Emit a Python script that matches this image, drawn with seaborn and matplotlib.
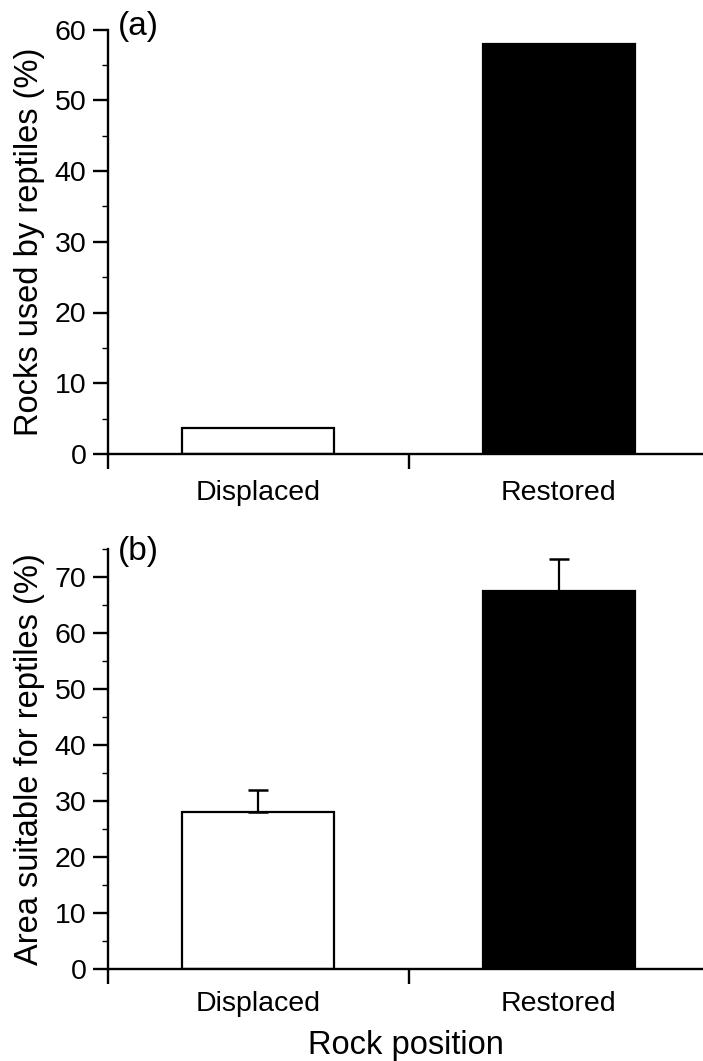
import matplotlib
matplotlib.use("Agg")
import matplotlib.pyplot as plt
import seaborn as sns
from matplotlib.ticker import MultipleLocator, FixedLocator

sns.set_theme(style="ticks")
plt.rcParams['font.family'] = ['Liberation Sans', 'DejaVu Sans']
plt.rcParams.update({"text.color": "black", "axes.labelcolor": "black",
                     "xtick.color": "black", "ytick.color": "black"})

categories = ["Displaced", "Restored"]
rocks_used = [3.7, 58.0]
area_suitable = [28.0, 67.5]
area_se = [3.9, 5.8]
bar_colors = ["white", "black"]

fig = plt.figure(figsize=(7.03, 10.61), dpi=100)
W, H = 703, 1061
ax_a = fig.add_axes([108 / W, 1 - 454 / H, (703 - 108) / W, (454 - 29.5) / H])
ax_b = fig.add_axes([108 / W, 1 - 969 / H, (703 - 108) / W, (969 - 549) / H])


def style_axis(ax, ylim, xpad):
    ax.set_xlim(-0.5, 1.48)
    ax.set_ylim(*ylim)
    for s in ("top", "right"):
        ax.spines[s].set_visible(False)
    for s in ("left", "bottom"):
        ax.spines[s].set_linewidth(1.7)
        ax.spines[s].set_color("black")
    ax.yaxis.set_major_locator(MultipleLocator(10))
    ax.yaxis.set_minor_locator(MultipleLocator(5))
    ax.xaxis.set_major_locator(FixedLocator([0, 1]))
    ax.xaxis.set_minor_locator(FixedLocator([-0.5, 0.5]))
    ax.set_xticklabels(categories)
    ax.tick_params(axis="y", which="major", length=11, width=1.7, labelsize=20.5,
                   pad=4.5, direction="out")
    ax.tick_params(axis="y", which="minor", length=4.5, width=1.0,
                   direction="out")
    ax.tick_params(axis="x", which="major", length=0, labelsize=20.5, pad=xpad)
    ax.tick_params(axis="x", which="minor", length=11, width=1.7,
                   direction="out")
    ax.set_facecolor("white")


# (a) share of rocks used by reptiles
sns.barplot(x=categories, y=rocks_used, hue=categories, palette=bar_colors,
            width=0.505, edgecolor="black", linewidth=1.6, legend=False,
            ax=ax_a, saturation=1)
style_axis(ax_a, (0, 60), 19)
ax_a.set_ylabel("Rocks used by reptiles (%)", fontsize=23.5, labelpad=7)
ax_a.set_xlabel("")
ax_a.text(0.017, 1.008, "(a)", transform=ax_a.transAxes, fontsize=24,
          ha="left", va="center")

# (b) suitable area, with upper standard-error bars
sns.barplot(x=categories, y=area_suitable, hue=categories, palette=bar_colors,
            width=0.505, edgecolor="black", linewidth=1.6, legend=False,
            ax=ax_b, saturation=1)
ax_b.errorbar(x=[0, 1], y=area_suitable, yerr=[[0, 0], area_se], fmt="none",
              ecolor="black", elinewidth=1.6, capsize=7.5, capthick=1.8,
              zorder=1)
style_axis(ax_b, (0, 75), 16)
ax_b.set_ylabel("Area suitable for reptiles (%)", fontsize=23.5, labelpad=7)
ax_b.set_xlabel("Rock position", fontsize=23.5, labelpad=9)
ax_b.text(0.017, 0.993, "(b)", transform=ax_b.transAxes, fontsize=24,
          ha="left", va="center")

fig.savefig("out.png", dpi=100, facecolor="white")
